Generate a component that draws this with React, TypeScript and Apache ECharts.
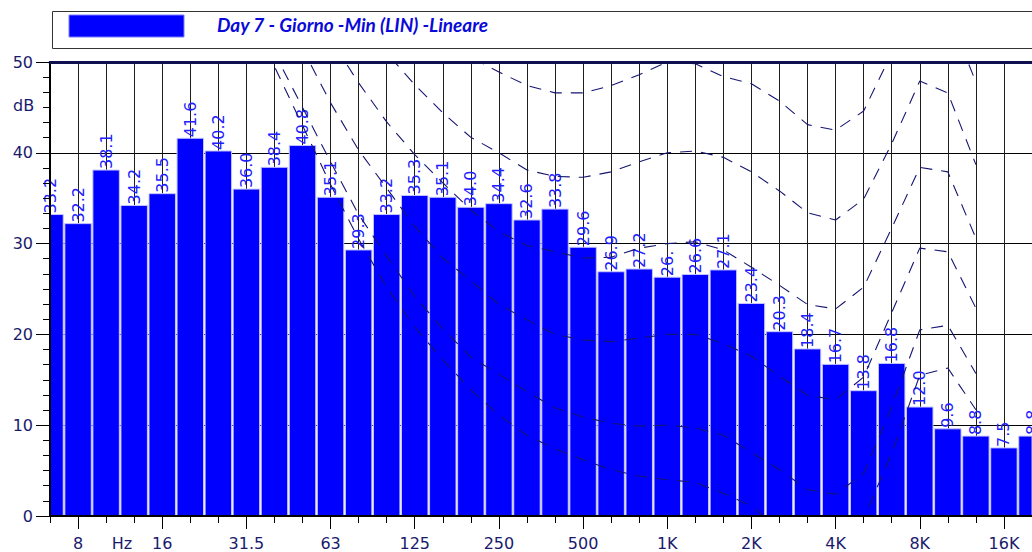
import React, { useEffect, useRef } from "react";
import * as echarts from "echarts";

// 1/3-octave band centres (category axis); labels shown every third band
const bands = ["6.3","8","10","12.5","16","20","25","31.5","40","50","63","80","100","125","160","200","250","315","400","500","630","800","1K","1.25K","1.6K","2K","2.5K","3.15K","4K","5K","6.3K","8K","10K","12.5K","16K","20K"];

// Measured levels (dB)
const levels = [33.2,32.2,38.1,34.2,35.5,41.6,40.2,36.0,38.4,40.8,35.1,29.3,33.2,35.3,35.1,34.0,34.4,32.6,33.8,29.6,26.9,27.2,26.3,26.6,27.1,23.4,20.3,18.4,16.7,13.8,16.8,12.0,9.6,8.8,7.5,8.8];
const truncatedLabels: Record<number, string> = { 22: "26." };

// Equal-loudness contours (dB) per band
const phon50 = ["-","-","-","-","-","-","-","-","-","-","-","-","-",57,53.5,50.5,48.9,47.4,46.6,46.6,47.4,48.6,50,49.8,48.4,47.6,45.7,43.1,42.5,44.6,51,57.8,55.5,47.8,"-","-"];
const phon40 = ["-","-","-","-","-","-","-","-","-","-",60,55.5,51,47.5,44.4,41.7,40.0,38.1,37.4,37.3,37.9,39.0,40,40.2,39.5,37.9,35.8,33.4,32.6,34.9,41,47.9,46.6,38.7,"-","-"];
const phon30 = ["-","-","-","-","-","-","-","-","-",57.5,52.5,47.7,43.4,39.8,36.7,33.7,31.3,29.8,29.1,28.4,28.5,29.5,30,30.2,29.3,27.4,25.4,23.3,22.8,25.2,31.7,38.4,37.9,30.6,"-","-"];
const phon20 = ["-","-","-","-","-","-","-","-",58,51.5,45.5,40.3,36.1,31.9,28.4,25.9,23.3,21.6,20.0,19.4,19.2,19.6,20,20.0,19.0,17.6,15.4,13.3,12.8,15.3,22.4,29.5,29.1,22.9,"-","-"];
const phon10 = ["-","-","-","-","-","-","-",60,51,45,39,33.2,28.6,24.2,20.6,17.5,15.6,13.7,11.9,10.9,10.2,9.9,10,9.7,8.9,7.0,5.1,2.9,2.4,4.7,12,20.5,21,15.7,"-","-"];
const maf = ["-","-","-","-","-","-","-",58,49.5,43,36.5,30.5,25.2,20.8,17.2,13.9,11.1,8.9,7.4,6.2,5.1,4.4,4.0,3.7,2.5,1.1,-1.5,-3.5,-3.5,-0.3,6.9,15.5,16.3,11.7,"-","-"];
const contours = [phon50, phon40, phon30, phon20, phon10, maf];

// Contour captions, placed at the 1K band
const contourNames = ["50","40","30","20","10","MAF"];
const contourLabelLevels = [50.7, 40.5, 30.4, 20.7, 10.8, 5.1];
const captionBand = 22;

const legendText = "Day 7 - Giorno -Min (LIN) -Lineare";

const NAVY = "#1a1a6c";
const CURVE = "#161672";

export default function App() {
  const ref = useRef<HTMLDivElement>(null);
  useEffect(() => {
    if (!ref.current) return;
    const chart = echarts.init(ref.current, undefined, { renderer: "svg" });
    const isMajor = (i: number) => i % 3 === 1;
    const baseX = { type: "category", data: bands, boundaryGap: false };
    const barLabels = levels.map((v, i) => (truncatedLabels[i] !== undefined ? truncatedLabels[i] : v.toFixed(1)));

    const renderBar = (params: any, api: any) => {
      const i = api.value(0);
      const v = api.value(1);
      const top = api.coord([i, v]);
      const base = api.coord([i, 0]);
      const w = api.size([1, 0])[0] - 1.6;
      const cs = params.coordSys;
      const rect = echarts.graphic.clipRectByRect(
        { x: top[0] - w / 2, y: top[1], width: w, height: base[1] - top[1] },
        { x: cs.x, y: cs.y, width: cs.width, height: cs.height }
      );
      const children: any[] = [];
      if (rect) {
        children.push({
          type: "rect",
          shape: rect,
          style: { fill: "#0000ff", stroke: "#c4c4ff", lineWidth: 1 },
        });
      }
      children.push({
        type: "text",
        x: top[0],
        y: top[1] - 1,
        rotation: Math.PI / 2,
        style: {
          text: barLabels[params.dataIndex],
          fill: "#2020ff",
          font: "16px 'DejaVu Sans'",
          align: "left",
          verticalAlign: "middle",
        },
      });
      return { type: "group", children };
    };

    const option: any = {
      animation: false,
      grid: { left: 50, right: -1, top: 62, bottom: 36 },
      xAxis: [
        {
          ...baseX, position: "bottom", z: 0,
          axisLine: { show: false, onZero: false }, axisTick: { show: false }, axisLabel: { show: false },
          splitLine: { show: true, interval: 0, lineStyle: { color: "#1e1e1e", width: 1 } },
        },
        {
          ...baseX, position: "bottom", z: 10,
          axisLine: { show: true, onZero: false, lineStyle: { color: "#000", width: 2 } },
          axisTick: { show: true, interval: 0, length: 7, lineStyle: { color: "#000", width: 1 } },
          axisLabel: { show: false }, splitLine: { show: false },
        },
        {
          ...baseX, position: "bottom", z: 10,
          axisLine: { show: false, onZero: false },
          axisTick: { show: true, interval: (i: number) => isMajor(i), length: 13, lineStyle: { color: "#000", width: 1 } },
          axisLabel: { show: true, interval: (i: number) => isMajor(i), margin: 19, color: NAVY, fontSize: 16, fontFamily: "DejaVu Sans" },
          splitLine: { show: false },
        },
        {
          ...baseX, position: "top", z: 10,
          axisLine: { show: true, onZero: false, lineStyle: { color: "#101050", width: 3 } },
          axisTick: { show: false }, axisLabel: { show: false }, splitLine: { show: false },
        },
      ],
      yAxis: [
        {
          type: "value", min: 0, max: 50, interval: 10, position: "left", z: 0,
          axisLine: { show: false }, axisTick: { show: false }, axisLabel: { show: false },
          splitLine: { show: true, lineStyle: { color: "#000", width: 1 } },
        },
        {
          type: "value", min: 0, max: 50, interval: 10, position: "left", z: 10,
          axisLine: { show: true, onZero: false, lineStyle: { color: "#000", width: 2 } },
          axisTick: { show: true, length: 14, lineStyle: { color: "#000", width: 1 } },
          minorTick: { show: true, splitNumber: 6, length: 7, lineStyle: { color: "#000", width: 1 } },
          axisLabel: { show: true, margin: 17, color: NAVY, fontSize: 16, fontFamily: "DejaVu Sans" },
          splitLine: { show: false },
        },
      ],
      series: [
        {
          type: "custom",
          xAxisIndex: 0, yAxisIndex: 0, z: 2,
          renderItem: renderBar,
          encode: { x: 0, y: 1 },
          data: levels.map((v, i) => [i, v]),
          silent: true,
        },
        ...contours.map((c) => ({
          type: "line",
          xAxisIndex: 0, yAxisIndex: 0, z: 4,
          data: c, symbol: "none", silent: true, clip: true, smooth: false,
          lineStyle: { color: CURVE, width: 1.1, type: [12, 9] },
        })),
        {
          type: "scatter",
          xAxisIndex: 0, yAxisIndex: 0, z: 20, clip: false, silent: true,
          symbolSize: 1, itemStyle: { opacity: 0 },
          data: contourLabelLevels.map((v, i) => ({ value: [captionBand, v], name: contourNames[i] })),
          label: {
            show: true, position: "inside", formatter: "{b}",
            backgroundColor: "#ffffff", padding: [2, 2, 1, 2],
            color: "#12126a", fontWeight: "bold", fontSize: 16, fontFamily: "Liberation Sans",
          },
        },
      ],
      graphic: [
        { type: "rect", z: 50, shape: { x: 52.5, y: 11.5, width: 1000, height: 37 }, style: { fill: "#fff", stroke: "#333", lineWidth: 1 } },
        { type: "rect", z: 51, shape: { x: 69, y: 15, width: 115, height: 22 }, style: { fill: "#0000ff", stroke: "#7a7aff", lineWidth: 1 } },
        { type: "text", z: 51, x: 217, y: 24, style: { text: legendText, fill: "#0a0ad8", font: "italic bold 19px Lato", verticalAlign: "middle" } },
        { type: "text", z: 51, x: 13, y: 105, style: { text: "dB", fill: NAVY, font: "16px 'DejaVu Sans'", verticalAlign: "middle" } },
        { type: "text", z: 51, x: 122, y: 543, style: { text: "Hz", fill: NAVY, font: "16px 'DejaVu Sans'", align: "center", verticalAlign: "middle" } },
      ],
    };
    chart.setOption(option);
    return () => chart.dispose();
  }, []);
  return (
    <div
      ref={ref}
      style={{ position: "fixed", left: 0, top: 0, width: 1032, height: 552, background: "#fff" }}
    />
  );
}
